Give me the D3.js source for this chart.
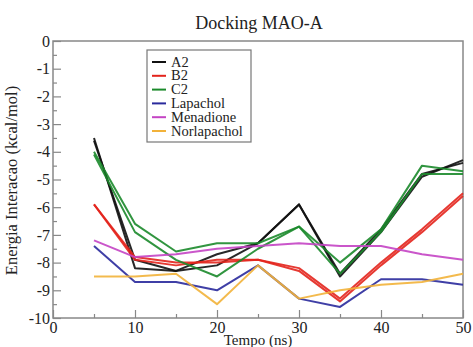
<!DOCTYPE html>
<html>
<head>
<meta charset="utf-8">
<script src="https://cdn.jsdelivr.net/npm/d3@7"></script>
<style>
  body { margin: 0; background: #fff; }
  svg text { font-family: "Liberation Serif", "Times New Roman", serif; fill: #222; }
</style>
</head>
<body>
<svg id="chart" width="473" height="347"></svg>
<script>
// tempo (ns)
const tempo = [5, 10, 15, 20, 25, 30, 35, 40, 45, 50];

// energia de interacao (kcal/mol), duas corridas para A2, B2, C2
const a2 = [
  [-3.5, -8.2, -8.3, -8.1, -7.3, -5.9, -8.5, -6.9, -4.9, -4.3],
  [-3.6, -7.9, -8.3, -7.7, -7.3, -5.9, -8.4, -6.8, -4.8, -4.4]
];
const b2 = [
  [-5.9, -7.8, -8.0, -8.0, -7.9, -8.3, -9.4, -8.1, -6.9, -5.6],
  [-5.9, -7.9, -8.1, -7.9, -7.9, -8.2, -9.3, -8.0, -6.8, -5.5]
];
const c2 = [
  [-4.0, -6.6, -7.6, -7.3, -7.3, -6.7, -8.0, -6.8, -4.5, -4.7],
  [-4.1, -6.9, -7.9, -8.5, -7.5, -6.7, -8.4, -6.9, -4.8, -4.8]
];
const lapachol = [-7.4, -8.7, -8.7, -9.0, -8.1, -9.3, -9.6, -8.6, -8.6, -8.8];
const menadione = [-7.2, -7.8, -7.7, -7.5, -7.4, -7.3, -7.4, -7.4, -7.7, -7.9];
const norlapachol = [-8.5, -8.5, -8.4, -9.5, -8.1, -9.3, -9.0, -8.8, -8.7, -8.4];

const nomes = ["A2", "B2", "C2", "Lapachol", "Menadione", "Norlapachol"];
const cores = ["#111111", "#e3241c", "#1b8a2b", "#2a2a9c", "#c444c4", "#f2b23a"];

const xTicks = [0, 10, 20, 30, 40, 50];
const yTicks = [0, -1, -2, -3, -4, -5, -6, -7, -8, -9, -10];

const svg = d3.select("#chart");
const m = { left: 53, top: 41, right: 10, bottom: 29 };
const W = 473 - m.left - m.right, H = 347 - m.top - m.bottom;

const x = d3.scaleLinear().domain([0, 50]).range([0, W]);
const y = d3.scaleLinear().domain([-10, 0]).range([H, 0]);

const g = svg.append("g").attr("transform", `translate(${m.left},${m.top})`);

// titulo
svg.append("text").attr("x", m.left + W / 2 + 1).attr("y", 29)
  .attr("text-anchor", "middle").attr("font-size", 18).text("Docking MAO-A");

// ticks menores
g.append("g").attr("transform", `translate(0,${H})`)
  .call(d3.axisBottom(x).tickValues(d3.range(5, 50, 10)).tickSize(-4).tickFormat(""))
  .call(a => a.select(".domain").remove());
g.append("g")
  .call(d3.axisLeft(y).tickValues(d3.range(-9.5, 0, 1)).tickSize(-4).tickFormat(""))
  .call(a => a.select(".domain").remove());

// eixos principais (hifen em vez do sinal de menos)
const fmt = d => String(d);
const xa = g.append("g").attr("transform", `translate(0,${H})`)
  .call(d3.axisBottom(x).tickValues(xTicks).tickSize(-8).tickPadding(4).tickFormat(fmt));
const ya = g.append("g")
  .call(d3.axisLeft(y).tickValues(yTicks).tickSize(-8).tickPadding(3).tickFormat(fmt));
[xa, ya].forEach(a => {
  a.select(".domain").remove();
  a.selectAll("text").attr("font-size", 16).attr("font-family", "Liberation Serif").attr("fill", "#222");
});
g.selectAll(".tick line").attr("stroke", "#888").attr("stroke-width", 1.2);

// moldura
g.append("rect").attr("width", W).attr("height", H)
  .attr("fill", "none").attr("stroke", "#888").attr("stroke-width", 1.5);

// linhas
const line = d3.line().x((d, i) => x(tempo[i])).y(d => y(d));
const series = [
  { run: a2, cor: cores[0] },
  { run: b2, cor: cores[1] },
  { run: c2, cor: cores[2] },
  { run: [lapachol], cor: cores[3] },
  { run: [menadione], cor: cores[4] },
  { run: [norlapachol], cor: cores[5] }
];
series.forEach(s => {
  s.run.forEach(vals => {
    g.append("path").datum(vals).attr("d", line)
      .attr("fill", "none").attr("stroke", s.cor).attr("stroke-width", 2)
      .attr("stroke-linejoin", "round").attr("opacity", 0.9);
  });
});

// legenda
const leg = svg.append("g").attr("transform", "translate(147,50)");
leg.append("rect").attr("width", 104).attr("height", 92)
  .attr("fill", "#fff").attr("stroke", "#777").attr("stroke-width", 1.2);
nomes.forEach((n, i) => {
  const yy = 12 + i * 13.8;
  leg.append("line").attr("x1", 5).attr("x2", 19).attr("y1", yy).attr("y2", yy)
    .attr("stroke", cores[i]).attr("stroke-width", 2);
  leg.append("text").attr("x", 24).attr("y", yy + 4.5).attr("font-size", 14.5).text(n);
});

// rotulos dos eixos
svg.append("text").attr("x", m.left + W / 2).attr("y", 345)
  .attr("text-anchor", "middle").attr("font-size", 15).text("Tempo (ns)");
svg.append("text").attr("transform", `translate(17,${m.top + H / 2 + 1}) rotate(-90)`)
  .attr("text-anchor", "middle").attr("font-size", 16.5).text("Energia Interacao (kcal/mol)");
</script>
</body>
</html>
